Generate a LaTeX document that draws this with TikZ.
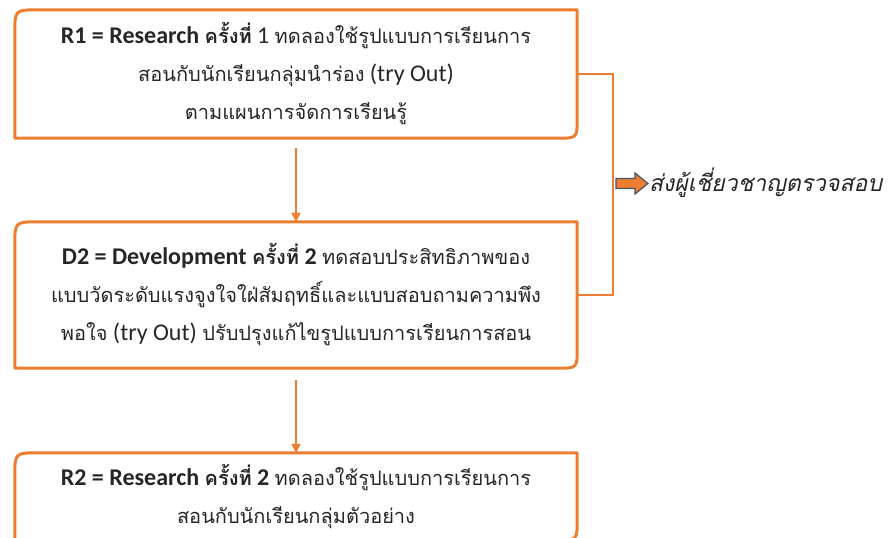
\documentclass[tikz,border=0pt]{standalone}
\usepackage{fontspec}
\setmainfont{Carlito}[Scale=1.2]
\newfontfamily\thaifont[Script=Thai]{Loma}
\newcommand\tha[1]{{\thaifont #1}}
\usetikzlibrary{arrows.meta,backgrounds}
\definecolor{orng}{HTML}{ED7D31}
\definecolor{txt}{HTML}{262626}
\definecolor{outl}{HTML}{44546A}
\begin{document}
\begin{tikzpicture}[x=1pt,y=-1pt,
  boxtext/.style={rectangle, inner sep=0pt, align=center, text=txt,
    font=\fontsize{20pt}{38pt}\selectfont, minimum width=562pt},
  outline/.style={draw=orng, line width=3pt, fill=white, line join=round},
  flow/.style={draw=orng, line width=2pt, -{Triangle[length=9pt,width=9pt]}},
  bracket/.style={draw=orng, line width=2pt},
  blockarrow/.style={fill=orng, draw=outl, line width=1.2pt}]
\useasboundingbox (0,0) rectangle (889,538);

\node[boxtext, minimum height=128pt] (b1) at (296,74)
  {{\bfseries R1 = Research \tha{ครั้งที่}} 1 \tha{ทดลองใช้รูปแบบการเรียนการ}\\
   \tha{สอนกับนักเรียนกลุ่มนำร่อง} (try Out)\\
   \tha{ตามแผนการจัดการเรียนรู้}};
\node[boxtext, minimum height=146pt] (b2) at (296,295)
  {{\bfseries D2 = Development \tha{ครั้งที่} 2} \tha{ทดสอบประสิทธิภาพของ}\\
   \tha{แบบวัดระดับแรงจูงใจใฝ่สัมฤทธิ์และแบบสอบถามความพึง}\\
   \tha{พอใจ} (try Out) \tha{ปรับปรุงแก้ไขรูปแบบการเรียนการสอน}};
\node[boxtext, minimum height=87pt] (b3) at (296,496.5)
  {{\bfseries R2 = Research \tha{ครั้งที่} 2} \tha{ทดลองใช้รูปแบบการเรียนการ}\\
   \tha{สอนกับนักเรียนกลุ่มตัวอย่าง}};

\begin{scope}[on background layer]
\foreach \b/\r/\s in {b1/24/20, b2/24/20, b3/24/20} {
  \path[outline] (\b.south west) -- ([yshift=-\r pt]\b.north west)
    .. controls (\b.north west) .. ([xshift=\r pt]\b.north west)
    -- (\b.north east) -- ([yshift=\s pt]\b.south east)
    .. controls (\b.south east) .. ([xshift=-\s pt]\b.south east) -- cycle;
}
\end{scope}

\draw[flow] ([yshift=-10pt]b1.south) -- (b2.north);
\draw[flow] ([yshift=-12pt]b2.south) -- (b3.north);

\draw[bracket] (b1.east) -- ++(36,0) |- (b2.east);

\draw[blockarrow] (616,178.5) -- (635,178.5) -- (635,173) -- (648,183.5)
  -- (635,194) -- (635,188.5) -- (616,188.5) -- cycle;
\node[anchor=west, inner sep=0pt, text=txt, font=\fontsize{23pt}{26pt}\selectfont\thaifont\itshape]
  (exp) at (649,183) {ส่งผู้เชี่ยวชาญตรวจสอบ};
\end{tikzpicture}
\end{document}
